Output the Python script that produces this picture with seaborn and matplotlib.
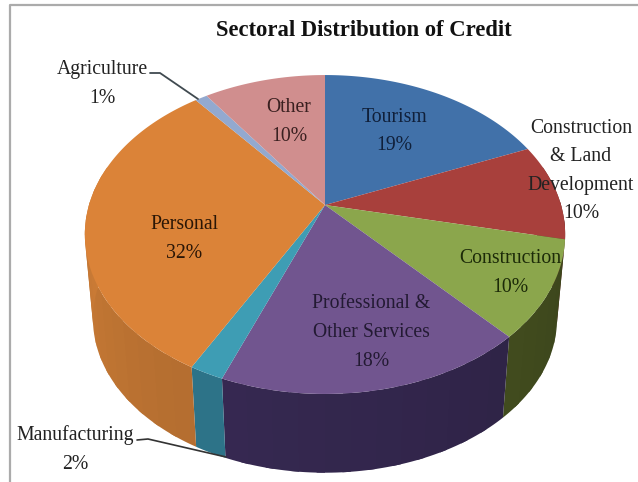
import numpy as np
import matplotlib
matplotlib.use("Agg")
import matplotlib.pyplot as plt
import seaborn as sns

# Credit shares by sector, clockwise from twelve o'clock
sectors = ["Tourism", "Construction & Land Development", "Construction",
           "Professional & Other Services", "Manufacturing", "Personal",
           "Agriculture", "Other"]
shares = [19, 10, 10, 18, 2, 32, 1, 10]
top_hex = ["#4171A9", "#A8403C", "#8BA64C", "#71558F",
           "#3E9DB4", "#DB8338", "#93A9CF", "#D08E8E"]
side_hex = ["#2F5480", "#7E2F2C", "#4A5622", "#352850",
            "#2C7085", "#AE6A2E", "#6F80A0", "#9E6B6B"]

sns.set_theme(style="white")
plt.rcParams["font.family"] = ["Liberation Serif", "DejaVu Serif"]
top_colors = sns.color_palette(top_hex)
side_colors = sns.color_palette(side_hex)

fig, ax = plt.subplots(figsize=(6.38, 4.82), dpi=100)
ax.set_position([0, 0, 1, 1])
ax.set_xlim(0, 638)
ax.set_ylim(482, 0)
ax.axis("off")

# Perspective disc: near edge of the pie is drawn larger than the far edge
CX, KEEN = 325, 0.185


def rim(theta, yc, a, b):
    u, v = np.sin(theta), np.cos(theta)
    w = 1 + KEEN * v
    return CX + a * u / w, yc - b * v / w


def top_rim(theta):
    return rim(theta, 205, 236, 154)


def bottom_rim(theta):
    return rim(theta, 290.5, 228, 148.5)


edges = np.cumsum([0] + shares) / sum(shares) * 2 * np.pi

# Outer wall, painted in overlapping strips so it shades gently along the curve
for i, (start, stop) in enumerate(zip(edges[:-1], edges[1:])):
    lo, hi = max(start, np.radians(75)), min(stop, np.radians(285))
    if lo >= hi:
        continue
    steps = np.linspace(lo, hi, max(2, int((hi - lo) * 12)))
    base = np.array(side_colors[i])
    for t0, t1 in zip(steps[:-1], steps[1:]):
        t = np.linspace(t0, min(t1 + 0.03, hi), 8)
        xt, yt = top_rim(t)
        xb, yb = bottom_rim(t)
        shade = 1 + 0.12 * (t0 - 3.32)
        ax.fill(np.r_[xt, xb[::-1]], np.r_[yt, yb[::-1]],
                color=np.clip(base * shade, 0, 1), lw=0)

# Top face of every slice
for i, (start, stop) in enumerate(zip(edges[:-1], edges[1:])):
    t = np.linspace(start, stop, 120)
    xt, yt = top_rim(t)
    ax.fill(np.r_[CX, xt], np.r_[205, yt], color=top_colors[i], lw=0)

# Frame along the top and left of the chart area
ax.plot([10, 10, 638], [482, 5, 5], color="#ABABAB", lw=1.6)

# Leader lines for the two slim slices
ax.plot([150, 160, 198], [73, 73, 99], color="#404A50", lw=1.3)
ax.plot([137, 148, 226], [440, 439, 457], color="#333333", lw=1.2)

ax.text(364, 30, "Sectoral Distribution of Credit", fontsize=16.3,
        fontweight="bold", color="#111111", ha="center", va="center")

labels = [
    (102, 84, "Agriculture\n1%", "#222222"),
    (289, 122, "Other\n10%", "#3A2020"),
    (394, 131.5, "Tourism\n19%", "#10203A"),
    (581, 171, "Construction\n& Land\nDevelopment\n10%", "#222222"),
    (510, 273, "Construction\n10%", "#1C2A08"),
    (371, 332.5, "Professional &\nOther Services\n18%", "#231A33"),
    (184, 239, "Personal\n32%", "#2A1606"),
    (75, 449.5, "Manufacturing\n2%", "#222222"),
]
for x, y, text, color in labels:
    ax.text(x, y, text, fontsize=14.2, color=color, ha="center", va="center",
            linespacing=1.68)

fig.savefig("out.png", dpi=100, facecolor="white")
